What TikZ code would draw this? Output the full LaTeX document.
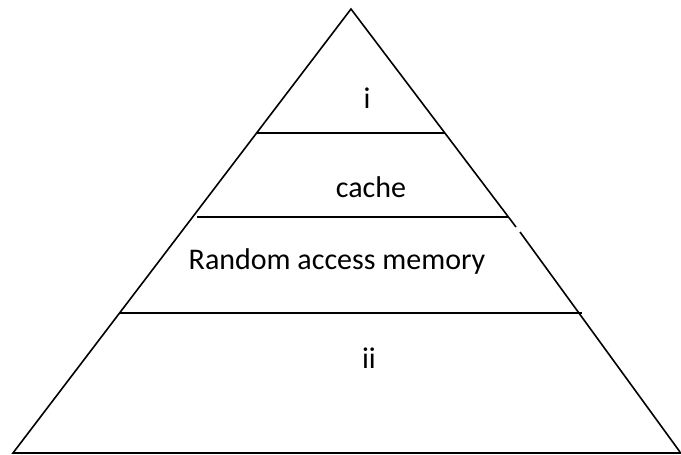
\documentclass[tikz,border=0pt]{standalone}
\usepackage{fontspec}
\setmainfont{Carlito}
\begin{document}
\begin{tikzpicture}[x=1pt,y=-1pt,
  edge/.style={line width=1.6pt,black},
  lbl/.style={font=\fontsize{30}{34}\selectfont,anchor=base,inner sep=0pt}]
\useasboundingbox (0,0) rectangle (681,455);
\coordinate (apex) at (351,9);
\coordinate (bl) at (13,453);
\coordinate (br) at (681,453);
\coordinate (gapA) at (516,227);
\coordinate (gapB) at (520,232);
\coordinate (l1) at (257,133);
\coordinate (r1) at (445,133);
\coordinate (l2) at (197,217);
\coordinate (r2) at (508,217);
\coordinate (l3) at (120,313);
\coordinate (r3) at (582,313);
\draw[edge] (gapA) -- (apex) -- (bl) -- (br);
\draw[edge] (gapB) -- (680,452);
\draw[edge] (l1) -- (r1);
\draw[edge] (l2) -- (r2);
\draw[edge] (l3) -- (r3);
\node[lbl] (t1) at (367,108) {i};
\node[lbl] (t2) at (371,197) {cache};
\node[lbl] (t3) at (337,269) {Random access memory};
\node[lbl] (t4) at (369,368) {ii};
\end{tikzpicture}
\end{document}
